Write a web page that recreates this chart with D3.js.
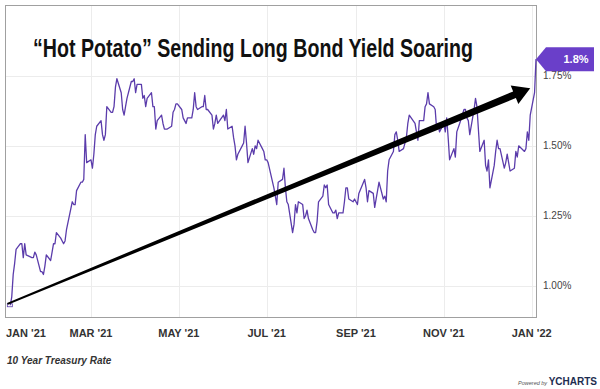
<!DOCTYPE html>
<html>
<head>
<meta charset="utf-8">
<script src="https://cdn.jsdelivr.net/npm/d3@7"></script>
<style>
  html, body { margin: 0; padding: 0; background: #fff; }
  svg { display: block; }
</style>
</head>
<body>
<svg id="chart"></svg>
<script>
// 10 year treasury, daily closes as [day, value]
const jan21 = [[4, 0.93], [5, 0.96], [6, 1.04], [7, 1.08], [8, 1.13], [11, 1.15], [12, 1.15], [13, 1.10], [14, 1.15], [15, 1.11], [19, 1.10], [20, 1.10], [21, 1.12], [22, 1.11], [25, 1.05], [26, 1.05], [27, 1.04], [28, 1.07], [29, 1.11]];
const feb21 = [[1, 1.09], [2, 1.12], [3, 1.15], [4, 1.15], [5, 1.19], [8, 1.17], [9, 1.16], [10, 1.15], [11, 1.16], [12, 1.20], [16, 1.30], [17, 1.29], [18, 1.29], [19, 1.34], [22, 1.37], [23, 1.37], [24, 1.38], [25, 1.54], [26, 1.44]];
const mar21 = [[1, 1.45], [2, 1.42], [3, 1.47], [4, 1.54], [5, 1.57], [8, 1.59], [9, 1.54], [10, 1.52], [11, 1.54], [12, 1.64], [15, 1.62], [16, 1.62], [17, 1.64], [18, 1.71], [19, 1.74], [22, 1.69], [23, 1.63], [24, 1.61], [25, 1.64], [26, 1.67], [29, 1.73], [30, 1.73], [31, 1.74]];
const apr21 = [[1, 1.69], [2, 1.72], [5, 1.72], [6, 1.67], [7, 1.68], [8, 1.64], [9, 1.67], [12, 1.69], [13, 1.64], [14, 1.64], [15, 1.56], [16, 1.59], [19, 1.61], [20, 1.58], [21, 1.56], [22, 1.56], [23, 1.56], [26, 1.57], [27, 1.62], [28, 1.63], [29, 1.65], [30, 1.65]];
const may21 = [[3, 1.63], [4, 1.60], [5, 1.59], [6, 1.58], [7, 1.60], [10, 1.60], [11, 1.63], [12, 1.69], [13, 1.64], [14, 1.63], [17, 1.64], [18, 1.64], [19, 1.68], [20, 1.63], [21, 1.63], [24, 1.61], [25, 1.56], [26, 1.58], [27, 1.61], [28, 1.58]];
const jun21 = [[1, 1.61], [2, 1.59], [3, 1.63], [4, 1.56], [7, 1.57], [8, 1.53], [9, 1.50], [10, 1.45], [11, 1.47], [14, 1.50], [15, 1.51], [16, 1.57], [17, 1.51], [18, 1.44], [21, 1.49], [22, 1.47], [23, 1.50], [24, 1.49], [25, 1.52], [28, 1.49], [29, 1.48], [30, 1.45]];
const jul21 = [[1, 1.45], [2, 1.44], [6, 1.35], [7, 1.32], [8, 1.29], [9, 1.37], [12, 1.38], [13, 1.42], [14, 1.35], [15, 1.30], [16, 1.29], [19, 1.19], [20, 1.22], [21, 1.29], [22, 1.26], [23, 1.30], [26, 1.29], [27, 1.24], [28, 1.25], [29, 1.27], [30, 1.24]];
const aug21 = [[2, 1.20], [3, 1.19], [4, 1.19], [5, 1.23], [6, 1.30], [9, 1.32], [10, 1.36], [11, 1.35], [12, 1.36], [13, 1.29], [16, 1.26], [17, 1.26], [18, 1.27], [19, 1.24], [20, 1.26], [23, 1.26], [24, 1.30], [25, 1.35], [26, 1.35], [27, 1.31], [30, 1.30], [31, 1.31]];
const sep21 = [[1, 1.30], [2, 1.29], [3, 1.33], [7, 1.38], [8, 1.35], [9, 1.30], [10, 1.34], [13, 1.33], [14, 1.28], [15, 1.31], [16, 1.34], [17, 1.37], [20, 1.31], [21, 1.32], [22, 1.30], [23, 1.41], [24, 1.45], [27, 1.48], [28, 1.54], [29, 1.55], [30, 1.52]];
const oct21 = [[1, 1.48], [4, 1.49], [5, 1.51], [6, 1.53], [7, 1.58], [8, 1.61], [12, 1.58], [13, 1.55], [14, 1.52], [15, 1.59], [18, 1.59], [19, 1.64], [20, 1.65], [21, 1.69], [22, 1.65], [25, 1.64], [26, 1.63], [27, 1.56], [28, 1.58], [29, 1.55]];
const nov21 = [[1, 1.58], [2, 1.55], [3, 1.60], [4, 1.53], [5, 1.45], [8, 1.49], [9, 1.46], [10, 1.55], [12, 1.58], [15, 1.63], [16, 1.63], [17, 1.60], [18, 1.59], [19, 1.54], [22, 1.63], [23, 1.67], [24, 1.64], [26, 1.48], [29, 1.52], [30, 1.43]];
const dec21 = [[1, 1.41], [2, 1.45], [3, 1.35], [6, 1.43], [7, 1.48], [8, 1.52], [9, 1.49], [10, 1.49], [13, 1.42], [14, 1.44], [15, 1.47], [16, 1.44], [17, 1.41], [20, 1.42], [21, 1.48], [22, 1.46], [23, 1.50], [27, 1.48], [28, 1.49], [29, 1.55], [30, 1.52], [31, 1.61]];
const jan22 = [[3, 1.69], [4, 1.81]];

const title = '\u201cHot Potato\u201d Sending Long Bond Yield Soaring';
const seriesName = '10 Year Treasury Rate';
const yTicks = [1.0, 1.25, 1.5, 1.75];
const xTicks = ['2021-01-01', '2021-03-01', '2021-05-01', '2021-07-01', '2021-09-01', '2021-11-01', '2022-01-01'];
// hand drawn trend arrow, in chart units
const arrowFrom = ['2021-01-02', 0.935];
const arrowTo = ['2021-12-31', 1.706];

const width = 600;
const height = 389;
const purple = '#5b3cab';
const narrow = '"Liberation Sans Narrow", "Liberation Sans", sans-serif';

const months = [
  [2021, 0, jan21], [2021, 1, feb21], [2021, 2, mar21], [2021, 3, apr21],
  [2021, 4, may21], [2021, 5, jun21], [2021, 6, jul21], [2021, 7, aug21],
  [2021, 8, sep21], [2021, 9, oct21], [2021, 10, nov21], [2021, 11, dec21],
  [2022, 0, jan22],
];
const data = months.flatMap(([yr, m, rows]) =>
  rows.map(([d, v]) => ({ date: new Date(yr, m, d), value: v }))
);
const parse = d3.timeParse('%Y-%m-%d');
const tickDates = xTicks.map(parse);

const svg = d3.select('#chart').attr('width', width).attr('height', height);

const plot = { left: 6, right: 536, top: 6, bottom: 317 };

const x = d3
  .scaleTime()
  .domain([new Date(2021, 0, 1), new Date(2022, 0, 4)])
  .range([plot.left, plot.right]);
const y = d3
  .scaleLinear()
  .domain([0.888, 2.0])
  .range([plot.bottom, plot.top]);

// Grid
const grid = svg.append('g').attr('stroke', '#ececec').attr('stroke-width', 1);
grid
  .selectAll('line.v')
  .data(tickDates.slice(1))
  .join('line')
  .attr('x1', (d) => Math.round(x(d)) + 0.5)
  .attr('x2', (d) => Math.round(x(d)) + 0.5)
  .attr('y1', plot.top)
  .attr('y2', plot.bottom);
grid
  .selectAll('line.h')
  .data(yTicks)
  .join('line')
  .attr('y1', (d) => Math.round(y(d)) + 0.5)
  .attr('y2', (d) => Math.round(y(d)) + 0.5)
  .attr('x1', plot.left)
  .attr('x2', plot.right);

// Frame
svg
  .append('rect')
  .attr('x', plot.left - 0.5)
  .attr('y', plot.top - 0.5)
  .attr('width', plot.right - plot.left + 1)
  .attr('height', plot.bottom - plot.top + 1)
  .attr('fill', 'none')
  .attr('stroke', '#a0a0a0');

// Y labels
svg
  .append('g')
  .selectAll('text')
  .data(yTicks)
  .join('text')
  .attr('x', 543)
  .attr('y', (d) => y(d) + 3.5)
  .attr('font-family', narrow)
  .attr('font-size', 10)
  .attr('fill', '#444')
  .text((d) => `${d.toFixed(2)}%`);

// X labels
const fmt = d3.timeFormat("%b '%y");
svg
  .append('g')
  .selectAll('text')
  .data(tickDates)
  .join('text')
  .attr('x', (d, i) => (i === 0 ? plot.left : x(d)))
  .attr('y', 337)
  .attr('text-anchor', (d, i) => (i === 0 ? 'start' : 'middle'))
  .attr('font-family', narrow)
  .attr('font-weight', 'bold')
  .attr('font-size', 11)
  .attr('fill', '#333')
  .text((d) => fmt(d).toUpperCase());

// Series line
const line = d3
  .line()
  .x((d) => x(d.date))
  .y((d) => y(d.value));
svg
  .append('path')
  .datum(data)
  .attr('fill', 'none')
  .attr('stroke', purple)
  .attr('stroke-width', 1.3)
  .attr('stroke-linejoin', 'round')
  .attr('d', line);

const first = data[0];
svg
  .append('rect')
  .attr('x', x(first.date) - 3)
  .attr('y', y(first.value) - 1.5)
  .attr('width', 5)
  .attr('height', 3)
  .attr('fill', 'none')
  .attr('stroke', purple)
  .attr('stroke-width', 0.8);

// Arrow
const p0 = [x(parse(arrowFrom[0])), y(arrowFrom[1])];
const p1 = [x(parse(arrowTo[0])), y(arrowTo[1])];
const len = Math.hypot(p1[0] - p0[0], p1[1] - p0[1]);
const u = [(p1[0] - p0[0]) / len, (p1[1] - p0[1]) / len];
const n = [-u[1], u[0]];
const headLen = 17;
const headHalf = 10;
const back = [p1[0] - u[0] * headLen, p1[1] - u[1] * headLen];
const at = (p, k) => [p[0] + n[0] * k, p[1] + n[1] * k];
svg
  .append('path')
  .attr('fill', '#000')
  .attr(
    'd',
    'M' + [at(p0, 1), at(back, 3.6), at(back, headHalf), p1, at(back, -headHalf), at(back, -3.6), at(p0, -1)]
      .map((p) => p.join(','))
      .join('L') + 'Z'
  );

// Last value tag
const last = data[data.length - 1];
const ty = y(last.value);
const tx = plot.right;
svg
  .append('path')
  .attr('fill', '#6a3fc9')
  .attr('d', `M${tx},${ty}L${tx + 10},${ty - 12}H594V${ty + 12}H${tx + 10}Z`);
svg
  .append('text')
  .attr('x', 576)
  .attr('y', ty + 4)
  .attr('text-anchor', 'middle')
  .attr('font-family', '"Liberation Sans", sans-serif')
  .attr('font-weight', 'bold')
  .attr('font-size', 11)
  .attr('fill', '#fff')
  .text(`${last.value.toFixed(1)}%`);

// Title
svg
  .append('text')
  .attr('x', 33)
  .attr('y', 57)
  .attr('font-family', narrow)
  .attr('font-weight', 'bold')
  .attr('font-size', 25)
  .attr('textLength', 440)
  .attr('lengthAdjust', 'spacingAndGlyphs')
  .attr('fill', '#111')
  .text(title);

// Footer
svg
  .append('text')
  .attr('x', 7)
  .attr('y', 364)
  .attr('font-family', narrow)
  .attr('font-style', 'italic')
  .attr('font-weight', 'bold')
  .attr('font-size', 10)
  .attr('fill', '#333')
  .text(seriesName);

const credit = svg
  .append('text')
  .attr('x', 597)
  .attr('y', 385)
  .attr('text-anchor', 'end')
  .attr('font-family', '"Liberation Sans", sans-serif');
credit
  .append('tspan')
  .attr('font-size', 5.5)
  .attr('font-style', 'italic')
  .attr('fill', '#555')
  .text('Powered by ');
credit
  .append('tspan')
  .attr('font-size', 10)
  .attr('font-weight', 'bold')
  .attr('fill', '#1d2d50')
  .text('YCHARTS');
</script>
</body>
</html>
